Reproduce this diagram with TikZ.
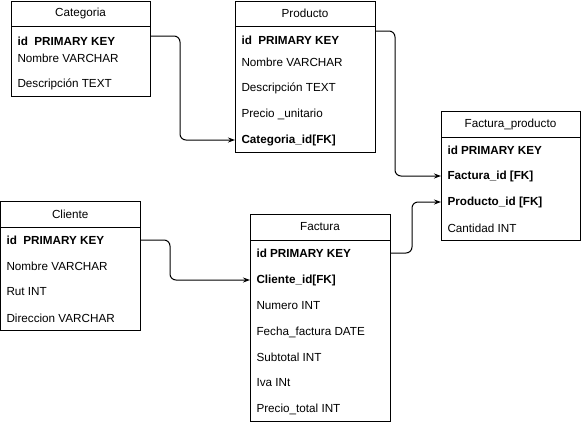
\documentclass[tikz,border=0pt]{standalone}
\usepackage{fontspec}
\setmainfont{Liberation Sans}
\usetikzlibrary{arrows.meta, positioning}

\begin{document}
\begin{tikzpicture}[x=1pt, y=-1pt, line width=1pt, font=\fontsize{11.7}{13}\selectfont]
    \tikzstyle{head}=[draw, rectangle, inner sep=0pt, outer sep=0pt, anchor=north west, minimum height=25pt]
    \tikzstyle{body}=[draw, rectangle, inner sep=0pt, outer sep=0pt, below=0pt of #1]
    \tikzstyle{field}=[anchor=west, inner sep=0pt]
    \tikzstyle{link}=[-{Stealth[length=7pt,width=5pt]}, rounded corners=6pt]

    \useasboundingbox (0,0) rectangle (581,426);

    % Categoria
    \node[head, minimum width=139pt] (cat-h) at (11,1) {Categoria};
    \node[body=cat-h, minimum width=139pt, minimum height=70pt] (cat) {};
    \foreach \n/\y/\t in {1/41/{\textbf{id\ \ PRIMARY KEY}}, 2/58/{Nombre VARCHAR}, 3/84/{Descripción TEXT}}
        \node[field] (cat-\n) at (17,\y) {\t};

    % Producto
    \node[head, minimum width=140pt] (pro-h) at (235,1) {Producto};
    \node[body=pro-h, minimum width=140pt, minimum height=126pt] (pro) {};
    \foreach \n/\y/\t in {1/40/{\textbf{id\ \ PRIMARY KEY}}, 2/62/{Nombre VARCHAR}, 3/88/{Descripción TEXT},
                          4/114/{Precio \_unitario}, 5/140/{\textbf{Categoria\_id[FK]}}}
        \node[field] (pro-\n) at (241,\y) {\t};

    % Factura_producto
    \node[head, minimum width=139pt, minimum height=26pt] (fp-h) at (441,111) {Factura\_producto};
    \node[body=fp-h, minimum width=139pt, minimum height=103pt] (fp) {};
    \foreach \n/\y/\t in {1/150/{\textbf{id PRIMARY KEY}}, 2/176/{\textbf{Factura\_id [FK]}},
                          3/202/{\textbf{Producto\_id [FK]}}, 4/228/{Cantidad INT}}
        \node[field] (fp-\n) at (447,\y) {\t};

    % Cliente
    \node[head, minimum width=139.5pt, minimum height=26pt] (cli-h) at (0.5,201) {Cliente};
    \node[body=cli-h, minimum width=139.5pt, minimum height=103pt] (cli) {};
    \foreach \n/\y/\t in {1/240/{\textbf{id\ \ PRIMARY KEY}}, 2/266/{Nombre VARCHAR}, 3/292/{Rut INT}, 4/318/{Direccion VARCHAR}}
        \node[field] (cli-\n) at (6,\y) {\t};

    % Factura
    \node[head, minimum width=140pt, minimum height=26pt] (fac-h) at (250,214) {Factura};
    \node[body=fac-h, minimum width=140pt, minimum height=181pt] (fac) {};
    \foreach \n/\y/\t in {1/253/{\textbf{id PRIMARY KEY}}, 2/280/{\textbf{Cliente\_id[FK]}}, 3/306/{Numero INT},
                          4/332/{Fecha\_factura DATE}, 5/357/{Subtotal INT}, 6/383/{Iva INt}, 7/409/{Precio\_total INT}}
        \node[field] (fac-\n) at (256,\y) {\t};

    % relations
    \draw[link] ([yshift=5pt]cat-1 -| cat.east) -- ++(30,0) |- (pro-5 -| pro.west);
    \draw[link] ([yshift=9pt]pro-1 -| pro.east) -- ++(20,0) |- (fp-2 -| fp.west);
    \draw[link] (fac-1 -| fac.east) -- ++(22,0) |- (fp-3 -| fp.west);
    \draw[link] (cli-1 -| cli.east) -- ++(30,0) |- (fac-2 -| fac.west);
\end{tikzpicture}
\end{document}
